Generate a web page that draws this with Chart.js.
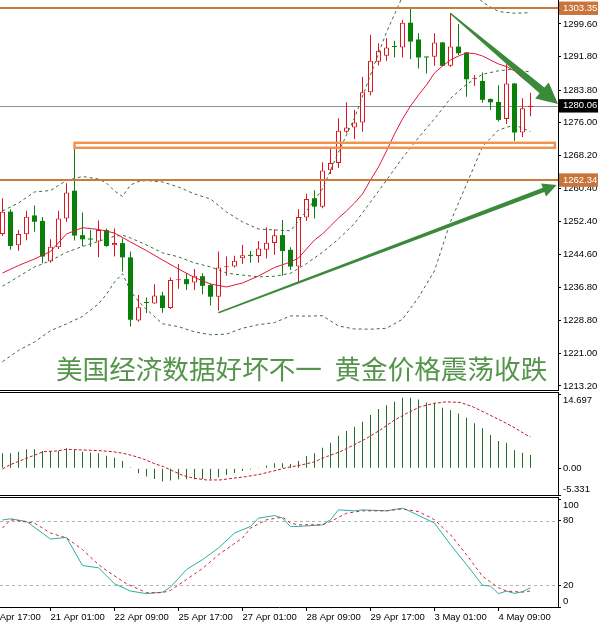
<!DOCTYPE html>
<html><head><meta charset="utf-8">
<script src="https://cdn.jsdelivr.net/npm/chart.js@4.4.1/dist/chart.umd.min.js"></script>
<style>
html,body{margin:0;padding:0;background:#fff;}
#wrap{position:relative;width:598px;height:626px;overflow:hidden;background:#fff;}
#wrap canvas{position:absolute;left:0;}
#cap{position:absolute;top:355px;left:0;width:598px;height:30px;font-family:'Noto Sans CJK SC',sans-serif;font-size:26.6px;line-height:26.6px;color:#55954b;white-space:nowrap;}
#cap span{position:absolute;top:0;}
</style></head><body>
<div id="wrap">
<canvas id="c1" width="598" height="391" style="top:0;width:598px;height:391px"></canvas>
<canvas id="c2" width="598" height="106" style="top:391px;width:598px;height:106px"></canvas>
<canvas id="c3" width="598" height="129" style="top:497px;width:598px;height:129px"></canvas>
<div id="cap"><span style="left:56px">美国经济数据好坏不一</span> <span style="left:334.5px">黄金价格震荡收跌</span></div>
</div>
<script>
// ---------- DATA ----------
const barTimes = [
 '20 Apr 01:00','20 Apr 05:00','20 Apr 09:00','20 Apr 13:00','20 Apr 17:00','20 Apr 21:00',
 '21 Apr 01:00','21 Apr 05:00','21 Apr 09:00','21 Apr 13:00','21 Apr 17:00','21 Apr 21:00',
 '22 Apr 01:00','22 Apr 05:00','22 Apr 09:00','22 Apr 13:00','22 Apr 17:00','22 Apr 21:00',
 '25 Apr 01:00','25 Apr 05:00','25 Apr 09:00','25 Apr 13:00','25 Apr 17:00','25 Apr 21:00',
 '26 Apr 01:00','26 Apr 05:00','26 Apr 09:00','26 Apr 13:00','26 Apr 17:00','26 Apr 21:00',
 '27 Apr 01:00','27 Apr 05:00','27 Apr 09:00','27 Apr 13:00','27 Apr 17:00','27 Apr 21:00',
 '28 Apr 01:00','28 Apr 05:00','28 Apr 09:00','28 Apr 13:00','28 Apr 17:00','28 Apr 21:00',
 '29 Apr 01:00','29 Apr 05:00','29 Apr 09:00','29 Apr 13:00','29 Apr 17:00','29 Apr 21:00',
 '2 May 01:00','2 May 05:00','2 May 09:00','2 May 13:00','2 May 17:00','2 May 21:00',
 '3 May 01:00','3 May 05:00','3 May 09:00','3 May 13:00','3 May 17:00','3 May 21:00',
 '4 May 01:00','4 May 05:00','4 May 09:00','4 May 13:00','4 May 17:00','4 May 21:00',
 '5 May 01:00'];
const openP = [1249.5,1254.8,1246.8,1249.4,1253.9,1252.6,1242.9,1246.3,1253.2,1259.8,
 1249.2,1248.25,1247.7,1250.4,1246.8,1247.3,1243.9,1228.8,1233.1,1232.9,
 1234.8,1231.8,1238.45,1238.7,1237.9,1239.4,1237.3,1234.5,1241.55,1241.7,
 1243.7,1244.35,1244.2,1245.7,1247.3,1249.2,1245.7,1241.7,1253.4,1258.0,
 1256.0,1264.7,1266.4,1273.9,1274.9,1276.1,1283.3,1290.6,1292.0,1294.25,
 1294.0,1299.9,1295.9,1291.7,1291.8,1295.2,1289.6,1294.2,1292.8,1286.5,
 1286.0,1281.7,1281.0,1276.9,1285.4,1273.7,1279.7];
const highP = [1258.0,1255.4,1250.4,1255.0,1256.3,1253.5,1248.2,1255.0,1261.6,1271.2,
 1254.6,1250.4,1252.7,1250.8,1250.8,1248.4,1245.3,1234.9,1234.3,1237.5,
 1235.7,1239.1,1242.3,1240.1,1241.1,1240.1,1237.7,1245.3,1244.1,1244.3,
 1246.9,1245.4,1247.8,1251.1,1250.6,1252.8,1246.3,1255.4,1259.1,1259.9,
 1266.6,1269.9,1277.1,1280.9,1279.1,1287.0,1297.0,1295.0,1296.2,1295.6,
 1300.6,1303.35,1297.4,1291.8,1297.4,1295.3,1302.2,1299.6,1292.9,1287.4,
 1288.0,1281.8,1285.0,1290.0,1285.5,1281.9,1283.2];
const lowP = [1249.0,1245.7,1245.5,1248.0,1250.0,1242.5,1242.6,1245.9,1252.4,1247.9,
 1246.6,1246.4,1243.9,1246.4,1244.1,1240.5,1227.4,1228.5,1230.6,1232.8,
 1230.7,1231.6,1236.4,1236.1,1236.1,1235.1,1232.4,1231.2,1239.5,1241.5,
 1242.3,1242.6,1242.6,1243.6,1244.5,1239.5,1240.9,1238.0,1252.6,1253.2,
 1255.6,1263.8,1265.2,1273.5,1272.1,1273.9,1282.6,1289.7,1290.8,1291.6,
 1291.6,1291.2,1289.0,1287.8,1289.6,1289.5,1289.4,1292.2,1282.2,1284.8,
 1280.8,1279.1,1276.3,1275.7,1271.7,1272.6,1277.6];
const closeP = [1254.8,1246.6,1249.5,1253.6,1252.4,1244.1,1246.4,1253.2,1259.4,1249.1,
 1248.2,1248.15,1250.4,1246.6,1247.3,1243.9,1229.0,1232.0,1233.0,1234.8,
 1231.8,1238.5,1238.55,1237.5,1239.5,1237.1,1234.5,1241.5,1241.65,1243.1,
 1244.4,1244.25,1246.0,1247.4,1249.2,1245.4,1241.7,1253.5,1257.8,1256.0,
 1264.6,1266.4,1274.1,1274.9,1276.1,1283.3,1290.8,1293.2,1294.0,1294.1,
 1299.9,1295.4,1291.6,1291.6,1295.2,1289.6,1294.2,1292.6,1286.4,1286.6,
 1281.5,1280.9,1276.7,1285.4,1273.7,1279.5,1280.06];

// moving average (red), read at these bars
const maBars = [0,2,4,6,8,10,12,14,16,18,20,22,24,26,28,30,32,34,36,
 37,38,39,40,41,42,43,44,45,46,47,48,49,50,51,52,53,54,55,56,57,58,59,60,61,62,63,64,65,66];
const maVals = [1240.17,1241.96,1243.51,1245.3,1249.48,1250.98,1250.55,1249.71,1247.57,1245.5,
 1243.27,1241.12,1239.09,1237.54,1236.83,1237.78,1239.45,1241.48,1242.79,
 1243.75,1245.9,1248.04,1249.48,1251.39,1253.29,1254.97,1256.87,1259.02,1262.36,
 1265.47,1269.29,1273.34,1276.92,1280.02,1282.65,1285.04,1287.9,1289.57,1291.0,
 1291.96,1292.67,1292.55,1291.96,1291.0,1290.05,1289.45,1288.38,1286.71,1285.28];

// Bollinger bands (dashed), read at these bars
const bbBars = [0,2,4,6,8,10,12,13,14,15,16,17,18,20,22,24,26,28,30,32,34,36,38,40,42,44,46,48,50,52,54,56,58,60,62,64,66];
const bbUpper = [1254.97,1256.87,1259.5,1259.86,1262.24,1263.2,1262.6,1261.64,1259.74,1258.43,1261.17,1262.0,1262.24,
 1261.89,1260.69,1259.02,1257.83,1254.73,1252.34,1250.67,1250.44,1250.25,1254.95,1260.25,1269.04,1277.16,
 1287.44,1297.65,1306.13,1310.61,1313.26,1311.24,1309.1,1304.8,1302.57,1302.16,1302.31];
const bbMiddle = [1237.0,1239.3,1241.6,1243.1,1245.1,1246.5,1247.7,1248.4,1248.9,1249.2,1248.52,1247.7,1246.86,
 1244.97,1244.02,1242.57,1241.63,1240.15,1239.66,1239.25,1239.38,1240.09,1242.41,1245.11,1248.28,1251.98,
 1257.1,1262.31,1267.63,1272.47,1276.98,1281.82,1285.2,1287.58,1288.43,1288.84,1288.11];
const bbLower = [1219.0,1221.7,1223.7,1226.4,1228.0,1229.8,1232.8,1235.1,1238.0,1240.0,1235.9,1233.4,1231.5,
 1228.05,1227.35,1226.12,1225.43,1225.57,1226.98,1227.83,1228.32,1229.93,1229.87,1229.97,1227.52,1226.8,
 1226.76,1226.97,1229.13,1234.33,1240.7,1252.4,1261.3,1270.36,1274.29,1275.52,1273.91];

// MACD
const macdMain = [2.98,2.98,3.30,3.78,3.78,3.44,3.44,3.44,3.98,3.64,
 3.30,3.10,2.98,2.50,2.11,1.45,0.2,-0.99,-1.66,-2.13,
 -2.66,-2.46,-2.19,-2.19,-2.19,-2.13,-2.13,-1.79,-1.33,-0.93,
 -0.54,-0.27,0.06,0.53,0.99,0.99,0.86,1.45,2.45,2.98,
 4.10,5.09,6.48,7.42,8.27,9.27,10.6,11.79,12.58,13.24,
 14.04,14.04,13.72,13.12,13.04,12.05,11.59,10.93,10.06,8.95,
 7.95,6.62,5.43,5.09,3.64,3.10,2.64];
const sigBars = [0,0.9,3,5.1,6.8,8,10.1,12.2,13.8,15.1,16.3,17.6,18.9,20.1,21.3,22.6,23.9,25.5,27.2,28.8,
 30.5,32.2,33.9,35.5,37.2,38.8,40.5,42.2,43.9,45.5,47.2,48.8,50.5,52.2,53.9,55.5,57.2,58.8,60.5,62.2,63.8,65.5,66];
const sigVals = [-0.14,0.66,1.99,3.30,3.44,3.78,3.64,3.50,3.30,2.98,2.50,1.85,0.99,0.33,-0.54,-1.46,-1.99,-2.33,-2.33,-1.99,
 -1.66,-1.19,-0.54,0.12,0.60,1.19,2.31,3.30,4.63,5.96,7.61,9.40,10.93,12.25,12.92,13.24,13.12,12.25,10.93,9.60,8.27,6.62,6.30];

// Stochastic
const kBars = [0,1,3,6,8,10,12,14,16,18,20,21,23,25,27,29,31,32,34,35,36,37,40,41,42,44,45,48,50,51,54,56,58,60,61,62,63,64,65,66];
const kVals = [80.8,81.9,79.4,63.1,64.6,38.5,36.4,21.6,14.8,12.4,13.8,18.5,34.8,44.0,54.8,68.7,74.8,82.5,84.9,82.5,
 74.8,74.8,76.3,81.0,90.2,89.3,90.2,89.3,91.8,88.6,77.9,57.9,39.4,20.3,19.4,12.4,14.8,12.6,14.2,17.9];
const dBars = [0,1,4,6,8,10,12,13,15.5,18,20,21,23,25,27,30,31,33,35,36,37,40,41,43,45,48,50,52,54,56,58,60,62,63,65,66];
const dVals = [73.3,81.0,77.9,68.7,64.1,53.3,39.4,33.9,21.6,13.3,13.3,15.4,25.6,35.7,48.6,64.1,73.3,81.0,83.4,77.9,
 76.3,76.3,79.4,87.1,89.3,89.3,91.1,88.6,81.0,67.1,48.6,28.6,17.9,14.8,13.8,14.9];

// ticks and annotation values
const priceTicks = [1299.60,1291.80,1283.80,1276.00,1268.20,1260.40,1252.40,1244.60,1236.80,1228.80,1221.00,1213.20];
const levelLines = [1303.35,1262.34];
const lastPrice = closeP[closeP.length - 1];
const zone = {fromBar: 9, toBar: 69.05, lo: 1270.05, hi: 1271.24};
const trendArrows = [
  {from: [26.98, 1230.69], to: [69.27, 1261.17]},
  {from: [55.97, 1302.15], to: [69.44, 1280.5]}
];
const macdTicks = [14.697, 0, -5.331];
const macdTickLabels = ['14.697','0.00','-5.331'];
const stochTicks = [100, 80, 20, 0];
const stochTickLabels = ['100','80','20','0'];
const stochLevels = [80, 20];
const xTickLabels = ['19 Apr 17:00','21 Apr 01:00','22 Apr 09:00','25 Apr 17:00','27 Apr 01:00','28 Apr 09:00','29 Apr 17:00','3 May 01:00','4 May 09:00'];
const barsPerLabel = 8;

// ---------- STYLE / LAYOUT ----------
const FONT = {family: "'Liberation Sans', Arial, sans-serif", size: 9.5};
Chart.defaults.font.family = FONT.family;
Chart.defaults.font.size = FONT.size;
Chart.defaults.color = '#000';
const RED = '#e0141e', GREEN = '#0a800a', MA_RED = '#e0163c', BB_COL = '#3b6b3b';
const X_MIN = -0.3125, X_MAX = 69.4375;
const arrowStyles = [
  {w0: 1.5, w1: 4.5, hl: 14, hw: 7},
  {w0: 1.5, w1: 7.5, hl: 21, hw: 10.5}
];

const xTickPos = xTickLabels.map((l, k) => {
  const i = barTimes.indexOf(l);
  if (i >= 0) return i;
  const next = xTickLabels.findIndex(m => barTimes.indexOf(m) >= 0);
  return barTimes.indexOf(xTickLabels[next]) - (next - k) * barsPerLabel;
});

const pts = (xs, ys) => xs.map((b, k) => ({x: b, y: ys[k]}));
const idx = barTimes.map((_, i) => i);
const upI = idx.filter(i => closeP[i] >= openP[i]);
const dnI = idx.filter(i => closeP[i] < openP[i]);

function hiddenX() {
  return {type: 'linear', min: X_MIN, max: X_MAX, offset: false, bounds: 'data', display: false, grid: {offset: false}};
}
function rightY(min, max, tickVals, cb, extraTicks) {
  return Object.assign({
    type: 'linear', position: 'right', min, max, bounds: 'data',
    afterBuildTicks: s => { s.ticks = tickVals.map(v => ({value: v})); },
    afterFit: s => { s.width = 40; s.paddingTop = 0; s.paddingBottom = 0; },
    grid: {drawOnChartArea: false, drawTicks: true, tickLength: 3, color: '#000'},
    border: {display: true, color: '#000', width: 1},
  }, {ticks: Object.assign({autoSkip: false, padding: 2, font: FONT, color: '#000', callback: cb}, extraTicks || {})});
}

function drawArrow(ctx, x0, y0, x1, y1, s) {
  const dx = x1 - x0, dy = y1 - y0, L = Math.hypot(dx, dy);
  const ux = dx / L, uy = dy / L, nx = -uy, ny = ux;
  const bx = x1 - ux * s.hl, by = y1 - uy * s.hl;
  ctx.beginPath();
  ctx.moveTo(x0 + nx * s.w0 / 2, y0 + ny * s.w0 / 2);
  ctx.lineTo(bx + nx * s.w1 / 2, by + ny * s.w1 / 2);
  ctx.lineTo(bx + nx * s.hw, by + ny * s.hw);
  ctx.lineTo(x1, y1);
  ctx.lineTo(bx - nx * s.hw, by - ny * s.hw);
  ctx.lineTo(bx - nx * s.w1 / 2, by - ny * s.w1 / 2);
  ctx.lineTo(x0 - nx * s.w0 / 2, y0 - ny * s.w0 / 2);
  ctx.closePath();
  ctx.fill();
}
function hline(ctx, a, py) { ctx.beginPath(); ctx.moveTo(a.left, py); ctx.lineTo(a.right, py); ctx.stroke(); }

const mainDecor = {
  id: 'mainDecor',
  beforeDatasetsDraw(chart) {
    const {ctx, chartArea: a, scales: {y}} = chart;
    ctx.save();
    ctx.strokeStyle = '#8a9399'; ctx.lineWidth = 1;
    hline(ctx, a, Math.round(y.getPixelForValue(lastPrice)) + 0.5);
    ctx.restore();
  },
  afterDatasetsDraw(chart) {
    const {ctx, chartArea: a, scales: {x, y}} = chart;
    ctx.save();
    const zx0 = x.getPixelForValue(zone.fromBar), zx1 = x.getPixelForValue(zone.toBar);
    const zy0 = y.getPixelForValue(zone.hi), zy1 = y.getPixelForValue(zone.lo);
    ctx.strokeStyle = '#f0914c'; ctx.lineWidth = 2.4;
    ctx.strokeRect(zx0, zy0, zx1 - zx0, zy1 - zy0);
    ctx.strokeStyle = '#c97a3d'; ctx.lineWidth = 2;
    levelLines.forEach(v => hline(ctx, a, Math.round(y.getPixelForValue(v))));
    ctx.fillStyle = '#3b8a3b';
    trendArrows.forEach((t, k) => drawArrow(ctx,
      x.getPixelForValue(t.from[0]), y.getPixelForValue(t.from[1]),
      x.getPixelForValue(t.to[0]), y.getPixelForValue(t.to[1]), arrowStyles[k]));
    ctx.strokeStyle = '#000'; ctx.lineWidth = 1;
    hline(ctx, a, a.bottom + 0.5);
    ctx.restore();
  }
};
const frameDecor = (top, bottom) => ({
  id: 'frameDecor',
  afterDatasetsDraw(chart) {
    const {ctx, chartArea: a} = chart;
    ctx.save(); ctx.strokeStyle = '#000'; ctx.lineWidth = 1;
    if (top) hline(ctx, a, a.top + 0.5);
    if (bottom) hline(ctx, a, a.bottom + 0.5);
    ctx.restore();
  }
});
const stochLevelsDecor = {
  id: 'stochLevels',
  beforeDatasetsDraw(chart) {
    const {ctx, chartArea: a, scales: {y}} = chart;
    ctx.save(); ctx.strokeStyle = '#b4b4b4'; ctx.lineWidth = 1; ctx.setLineDash([3, 3]);
    stochLevels.forEach(v => hline(ctx, a, Math.round(y.getPixelForValue(v)) + 0.5));
    ctx.restore();
  }
};

const common = {responsive: false, animation: false, devicePixelRatio: 1, events: [],
  plugins: {legend: {display: false}, tooltip: {enabled: false}}};

// ---------- MAIN PRICE CHART ----------
const tagColor = v => v === lastPrice ? '#000000' : (levelLines.includes(v) ? '#c8743a' : null);
new Chart(document.getElementById('c1'), {
  type: 'bar',
  data: {datasets: [
    {type: 'line', data: pts(maBars, maVals), borderColor: MA_RED, borderWidth: 1, pointRadius: 0, order: 0},
    {type: 'line', data: pts(bbBars, bbUpper), borderColor: BB_COL, borderWidth: 1, borderDash: [3, 3], pointRadius: 0, order: 0},
    {type: 'line', data: pts(bbBars, bbMiddle), borderColor: BB_COL, borderWidth: 1, borderDash: [3, 3], pointRadius: 0, order: 0},
    {type: 'line', data: pts(bbBars, bbLower), borderColor: BB_COL, borderWidth: 1, borderDash: [3, 3], pointRadius: 0, order: 0},
    {data: upI.map(i => ({x: i, y: [openP[i], closeP[i]]})), backgroundColor: '#ffffff', borderColor: RED, borderWidth: 1,
      borderSkipped: false, barThickness: 5, grouped: false, minBarLength: 1, inflateAmount: 0, order: 1},
    {data: dnI.map(i => ({x: i, y: [closeP[i], openP[i]]})), backgroundColor: GREEN, borderColor: GREEN, borderWidth: 0,
      borderSkipped: false, barThickness: 5, grouped: false, minBarLength: 1, inflateAmount: 0, order: 1},
    {data: upI.map(i => ({x: i, y: [lowP[i], highP[i]]})), backgroundColor: RED, borderWidth: 0,
      barThickness: 1, grouped: false, inflateAmount: 0, order: 2},
    {data: dnI.map(i => ({x: i, y: [lowP[i], highP[i]]})), backgroundColor: GREEN, borderWidth: 0,
      barThickness: 1, grouped: false, inflateAmount: 0, order: 2}
  ]},
  options: Object.assign({}, common, {
    layout: {padding: {top: 0, bottom: 1, left: 0, right: 0}},
    scales: {
      x: hiddenX(),
      y: rightY(1212.24, 1305.32, priceTicks.concat(levelLines, [lastPrice]), v => v.toFixed(2), {
        color: c => tagColor(c.tick.value) ? '#ffffff' : '#000000',
        showLabelBackdrop: c => !!tagColor(c.tick.value),
        backdropColor: c => tagColor(c.tick.value) || 'rgba(0,0,0,0)',
        backdropPadding: {top: 1, bottom: 1, left: 4, right: 4}
      })
    }
  }),
  plugins: [mainDecor]
});

// ---------- MACD ----------
new Chart(document.getElementById('c2'), {
  type: 'bar',
  data: {datasets: [
    {type: 'line', data: pts(sigBars, sigVals), borderColor: '#c8102e', borderWidth: 1, borderDash: [3, 2], pointRadius: 0, order: 0},
    {data: macdMain.map((v, i) => ({x: i, y: v})), backgroundColor: '#1f721f', borderWidth: 0, barThickness: 1, grouped: false, inflateAmount: 0, order: 1}
  ]},
  options: Object.assign({}, common, {
    layout: {padding: {top: 1, bottom: 2, left: 0, right: 0}},
    scales: {
      x: hiddenX(),
      y: rightY(-5.331, 15.2, macdTicks, (v, i) => {
        const t = macdTickLabels[i];
        return i === 0 ? ['', t] : (i === macdTicks.length - 1 ? [t, ''] : t);
      })
    }
  }),
  plugins: [frameDecor(true, true)]
});

// ---------- STOCHASTIC ----------
new Chart(document.getElementById('c3'), {
  type: 'line',
  data: {datasets: [
    {data: pts(kBars, kVals), borderColor: '#2aaea6', borderWidth: 1, pointRadius: 0, order: 1},
    {data: pts(dBars, dVals), borderColor: '#d0203a', borderWidth: 1, borderDash: [3, 3], pointRadius: 0, order: 0}
  ]},
  options: Object.assign({}, common, {
    layout: {padding: {top: 0, bottom: 0, left: 0, right: 0}},
    scales: {
      x: {
        type: 'linear', min: X_MIN, max: X_MAX, offset: false, bounds: 'data', position: 'bottom',
        afterBuildTicks: s => { s.ticks = xTickPos.map(v => ({value: v})); },
        afterFit: s => { s.height = 19; s.paddingLeft = 0; s.paddingRight = 0; },
        ticks: {autoSkip: false, maxRotation: 0, minRotation: 0, align: 'start', padding: 1, font: FONT, color: '#000',
          callback: (v, i) => xTickLabels[i]},
        grid: {drawOnChartArea: false, drawTicks: true, tickLength: 4, color: '#000', offset: false},
        border: {display: true, color: '#000', width: 1}
      },
      y: rightY(0, 102.15, stochTicks, (v, i) => {
        const t = stochTickLabels[i];
        return i === 0 ? ['', t] : (i === stochTicks.length - 1 ? [t, ''] : t);
      })
    }
  }),
  plugins: [stochLevelsDecor, frameDecor(true, false)]
});
</script>
</body></html>
